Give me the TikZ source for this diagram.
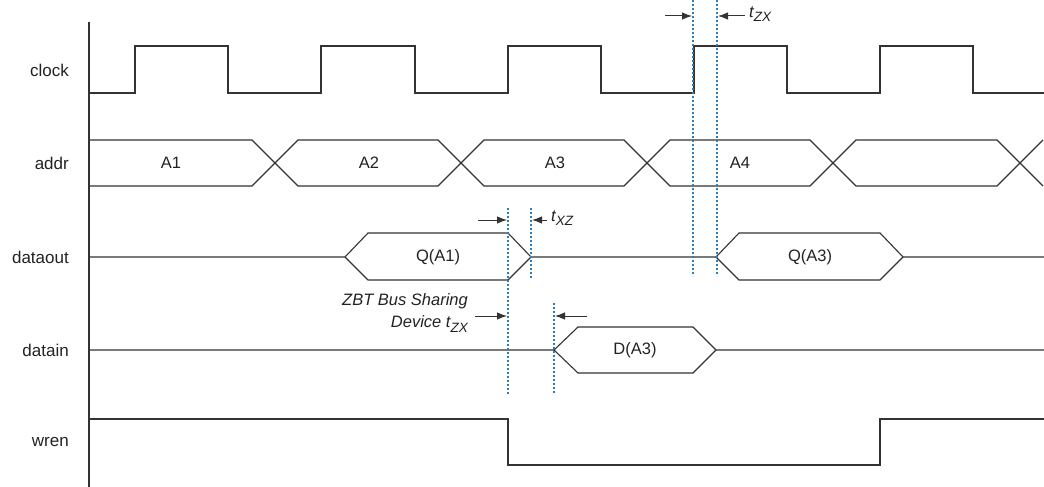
\documentclass[tikz,border=0pt]{standalone}
\usepackage{fontspec}
\setmainfont{Liberation Sans}
\usetikzlibrary{arrows.meta}
\definecolor{sig}{HTML}{333333}
\definecolor{guide}{HTML}{2B7DC0}
\definecolor{txt}{HTML}{222222}
\newcommand{\subtx}[1]{\raisebox{-4.5pt}{\fontsize{13.5}{15}\selectfont #1}}
\tikzset{
  wave/.style={draw=sig, line width=1.1pt, line join=miter},
  guideline/.style={draw=guide, line width=1.3pt, dash pattern=on 2pt off 2pt},
  dim/.style={draw=sig, line width=1pt, -{Latex[length=10pt,width=7.5pt]}},
  siglabel/.style={anchor=east, text=txt, font=\fontsize{17}{20}\selectfont, inner sep=0pt},
  buslabel/.style={text=txt, font=\fontsize{16.5}{20}\selectfont, inner sep=0pt},
  timelabel/.style={text=txt, font=\fontsize{16.5}{22}\selectfont\itshape, inner sep=0pt}
}
\begin{document}
\begin{tikzpicture}[x=1pt, y=-1pt]
\useasboundingbox (0,0) rectangle (1044,487);
% axis
\draw[wave] (89,22) -- (89,487);
% signal names
\node[siglabel] (lclock) at (69,70) {clock};
\node[siglabel] (laddr) at (69,163) {addr};
\node[siglabel] (ldataout) at (69,257) {dataout};
\node[siglabel] (ldatain) at (69,350) {datain};
\node[siglabel] (lwren) at (69,442) {wren};
% clock
\draw[wave] (89,93) -- (135,93) -- (135,46) -- (228,46) -- (228,93) -- (321,93) -- (321,46) -- (415,46) -- (415,93)
  -- (508,93) -- (508,46) -- (601,46) -- (601,93) -- (694,93) -- (694,46) -- (787,46) -- (787,93)
  -- (880,93) -- (880,46) -- (973,46) -- (973,93) -- (1044,93);
% addr
\draw[wave] (89,140) -- (252,140) -- (298,186) -- (438,186) -- (484,140) -- (624,140) -- (670,186)
  -- (810,186) -- (856,140) -- (997,140) -- (1043,186);
\draw[wave] (89,186) -- (252,186) -- (298,140) -- (438,140) -- (484,186) -- (624,186) -- (670,140)
  -- (810,140) -- (856,186) -- (997,186) -- (1043,140);
\node[buslabel] (a1) at (171,163) {A1};
\node[buslabel] (a2) at (369,163) {A2};
\node[buslabel] (a3) at (555,163) {A3};
\node[buslabel] (a4) at (740,163) {A4};
% dataout
\draw[wave] (89,257) -- (345,257) -- (368,233) -- (508,233) -- (531,257) -- (716,257) -- (739,233) -- (880,233) -- (903,257) -- (1044,257);
\draw[wave] (345,257) -- (368,280) -- (508,280) -- (531,257);
\draw[wave] (716,257) -- (739,280) -- (880,280) -- (903,257);
\node[buslabel] (qa1) at (438,257) {Q(A1)};
\node[buslabel] (qa3) at (810,257) {Q(A3)};
% datain
\draw[wave] (89,350) -- (554,350) -- (578,327) -- (693,327) -- (716,350) -- (1044,350);
\draw[wave] (554,350) -- (578,373) -- (693,373) -- (716,350);
\node[buslabel] (da3) at (635,350) {D(A3)};
% wren
\draw[wave] (89,419) -- (508,419) -- (508,465) -- (880,465) -- (880,419) -- (1044,419);
% guide lines
\coordinate (g1t) at (693,0);   \coordinate (g1b) at (693,276);
\coordinate (g2t) at (717,0);   \coordinate (g2b) at (717,276);
\coordinate (g3t) at (508,208); \coordinate (g3b) at (508,394);
\coordinate (g4t) at (531,208); \coordinate (g4b) at (531,279);
\coordinate (g5t) at (554,303); \coordinate (g5b) at (554,394);
\foreach \t/\b in {g1t/g1b, g2t/g2b, g3t/g3b, g4t/g4b, g5t/g5b}
  \draw[guideline] (\t) -- (\b);
% tZX (clock)
\coordinate (d1s) at (665,16); \coordinate (d1e) at (692,16);
\coordinate (d2s) at (745,16); \coordinate (d2e) at (718,16);
\draw[dim] (d1s) -- (d1e);
\draw[dim] (d2s) -- (d2e);
\node[timelabel, anchor=west] (tzx) at (749,14) {t\subtx{ZX}};
% tXZ
\coordinate (d3s) at (478,220); \coordinate (d3e) at (507,220);
\coordinate (d4s) at (547,220); \coordinate (d4e) at (532,220);
\draw[dim] (d3s) -- (d3e);
\draw[dim] (d4s) -- (d4e);
\node[timelabel, anchor=west] (txz) at (551,218) {t\subtx{XZ}};
% ZBT bus sharing
\coordinate (d5s) at (475,316); \coordinate (d5e) at (507,316);
\coordinate (d6s) at (587,316); \coordinate (d6e) at (555,316);
\draw[dim] (d5s) -- (d5e);
\draw[dim] (d6s) -- (d6e);
\node[timelabel, anchor=east, align=right] (zbt) at (468,313) {ZBT Bus Sharing\\Device t\subtx{ZX}};
\end{tikzpicture}
\end{document}
